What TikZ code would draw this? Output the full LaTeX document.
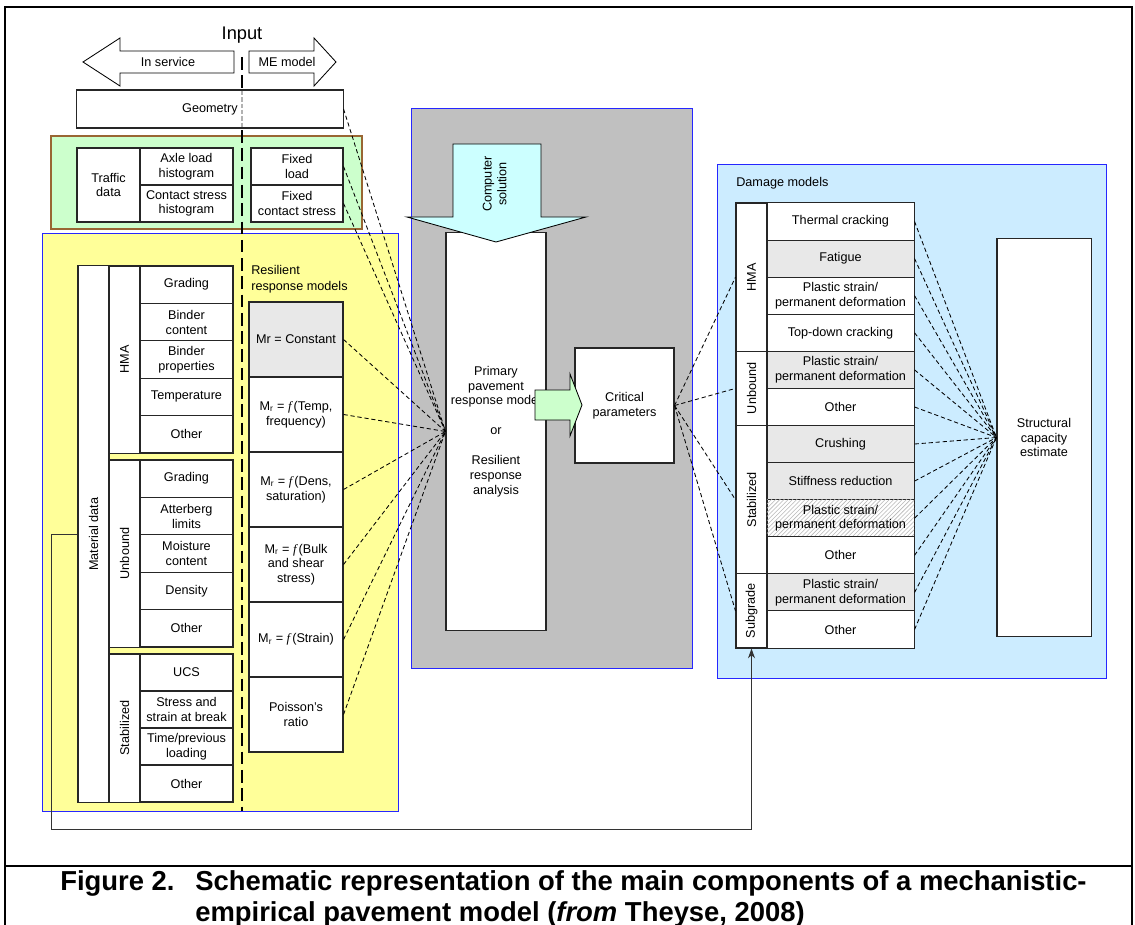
\documentclass[tikz,border=0pt]{standalone}
\usepackage{fontspec}
\setmainfont{Liberation Sans}
\newfontfamily\timesfam{Liberation Serif}
\usetikzlibrary{arrows.meta,patterns}

\definecolor{panelyellow}{HTML}{FFFF99}
\definecolor{panelgreen}{HTML}{CCFFCC}
\definecolor{panelgray}{HTML}{C0C0C0}
\definecolor{panelblue}{HTML}{CCECFF}
\definecolor{panelbrown}{HTML}{996633}
\definecolor{itemgray}{HTML}{E8E8E8}
\definecolor{arrowcyan}{HTML}{CCFFFF}

\newcommand{\modr}{M\textsubscript{r}}
\newcommand{\funcf}{{\timesfam\itshape f}\,}

\tikzset{
  panel/.style={draw=blue!85, line width=0.6pt},
  cell/.style={draw=black!85, fill=white, line width=0.75pt, align=center, inner sep=1pt},
  matitem/.style={cell, minimum width=2.325cm, minimum height=0.935cm},
  matgroup/.style={cell, minimum width=0.775cm},
  rmodel/.style={cell, minimum width=2.35cm, minimum height=1.875cm},
  dmgitem/.style={cell, minimum width=3.675cm, minimum height=0.927cm},
  dmggroup/.style={cell, minimum width=0.775cm},
  shaded/.style={fill=itemgray},
  hatched/.style={postaction={pattern=north east lines, pattern color=gray!55}},
  bigarrow/.style={draw=black, line width=0.6pt},
  link/.style={dash pattern=on 3pt off 2pt, line width=0.6pt},
  divider/.style={line width=1.8pt, dash pattern=on 9pt off 4pt},
  feedback/.style={draw=black!80, line width=0.6pt, -{Stealth[length=7pt,width=5pt]}},
  caption/.style={font=\fontsize{19.5}{23}\selectfont\bfseries, inner sep=0pt},
}

\begin{document}
\begin{tikzpicture}[x=0.025cm, y=-0.025cm,
    every node/.append style={font=\fontsize{9}{10.5}\selectfont}]
  \useasboundingbox (0,0) rectangle (1135,925);

  % frame and caption rule
  \draw[line width=1.5pt] (5,925) -- (5,7) -- (1132,7) -- (1132,925);
  \draw[line width=1.5pt] (5,866) -- (1132,866);

  % coloured panels
  \filldraw[panel, fill=panelyellow] (42,233) rectangle (398,811);
  \filldraw[fill=panelgreen, draw=panelbrown, line width=0.8pt] (51,136) rectangle (362,229);
  \filldraw[panel, fill=panelgray] (411,108) rectangle (692,668);
  \filldraw[panel, fill=panelblue] (717,164) rectangle (1106,678);

  % in service / ME model divider
  \draw[divider] (242,57) -- (242,811);

  % input side
  \node[font=\fontsize{13}{15}\selectfont] (input) at (242,35) {Input};
  \draw[bigarrow, fill=white] (83,62) -- (120,38) -- (120,51) -- (234,51) -- (234,73) -- (120,73) -- (120,86) -- cycle;
  \draw[bigarrow, fill=white] (249,51) -- (314,51) -- (314,38) -- (336,62) -- (314,86) -- (314,73) -- (249,73) -- cycle;
  \node (inservice) at (168,62) {In service};
  \node (memodel) at (287,62) {ME model};

  \node[cell, minimum width=6.65cm, minimum height=0.95cm] (geom) at (210,109) {Geometry};
  \draw[gray!60, line width=1.2pt, dash pattern=on 3pt off 1.5pt] (242,91) -- (242,127);

  \node[cell, minimum width=1.575cm, minimum height=1.85cm] (trafdata) at (108.5,185) {Traffic\\data};
  \node[matitem, minimum height=0.925cm] (axle) at (186.5,166.5) {Axle load\\histogram};
  \node[matitem, minimum height=0.925cm] (contact) at (186.5,203.5) {Contact stress\\histogram};
  \node[cell, minimum width=2.3cm, minimum height=0.925cm] (fixload) at (297,166.5) {Fixed\\load};
  \node[cell, minimum width=2.3cm, minimum height=0.925cm] (fixstress) at (297,203.5) {Fixed\\contact stress};

  % material data
  \node[matgroup, minimum height=13.4cm] (matdata) at (93.5,534) {\rotatebox{90}{Material data}};
  \node[matgroup, minimum height=4.675cm] (mhma) at (124.5,359.5) {\rotatebox{90}{HMA}};
  \node[matgroup, minimum height=4.675cm] (munb) at (124.5,553.5) {\rotatebox{90}{Unbound}};
  \node[matgroup, minimum height=3.7cm] (mstab) at (124.5,728) {\rotatebox{90}{Stabilized}};

  \node[matitem] (hma1) at (186.5,284.7) {Grading};
  \node[matitem] (hma2) at (186.5,322.1) {Binder\\content};
  \node[matitem] (hma3) at (186.5,359.5) {Binder\\properties};
  \node[matitem] (hma4) at (186.5,396.9) {Temperature};
  \node[matitem] (hma5) at (186.5,434.3) {Other};
  \node[matitem] (unb1) at (186.5,478.7) {Grading};
  \node[matitem] (unb2) at (186.5,516.1) {Atterberg\\limits};
  \node[matitem] (unb3) at (186.5,553.5) {Moisture\\content};
  \node[matitem] (unb4) at (186.5,590.9) {Density};
  \node[matitem] (unb5) at (186.5,628.3) {Other};
  \node[matitem, minimum height=0.925cm] (stab1) at (186.5,672.5) {UCS};
  \node[matitem, minimum height=0.925cm] (stab2) at (186.5,709.5) {Stress and\\strain at break};
  \node[matitem, minimum height=0.925cm] (stab3) at (186.5,746.5) {Time/previous\\loading};
  \node[matitem, minimum height=0.925cm] (stab4) at (186.5,783.5) {Other};

  % resilient response models
  \node[anchor=north west, align=left, inner sep=0pt, font=\fontsize{9}{11.3}\selectfont] (rrmtitle) at (251,265) {Resilient\\response models};
  \node[rmodel, shaded] (rm1) at (296,339.5) {Mr = Constant};
  \node[rmodel] (rm2) at (296,414.5) {\modr{} = \funcf(Temp,\\frequency)};
  \node[rmodel] (rm3) at (296,489.5) {\modr{} = \funcf(Dens,\\saturation)};
  \node[rmodel] (rm4) at (296,564.5) {\modr{} = \funcf(Bulk\\and shear\\stress)};
  \node[rmodel] (rm5) at (296,639.5) {\modr{} = \funcf(Strain)};
  \node[rmodel] (rm6) at (296,714.5) {Poisson's\\ratio};

  % primary response
  \node[cell, minimum width=2.5cm, minimum height=9.925cm, font=\fontsize{9}{10.6}\selectfont] (prim) at (496,431.5)
    {Primary\\pavement\\response model\\[10.6pt]or\\[10.6pt]Resilient\\response\\analysis};
  \draw[bigarrow, fill=arrowcyan] (453,144) -- (541,144) -- (541,217) -- (586,217) -- (496,242) -- (407,217) -- (453,217) -- cycle;
  \node (compsol) at (496,184) {\rotatebox{90}{\begin{tabular}{@{}c@{}}Computer\\solution\end{tabular}}};
  \node[cell, minimum width=2.475cm, minimum height=2.875cm] (crit) at (624.5,405.5) {Critical\\parameters};
  \draw[bigarrow, fill=panelgreen] (535,390) -- (570,390) -- (570,374) -- (582,405) -- (570,436) -- (570,420) -- (535,420) -- cycle;

  % damage models
  \node[anchor=west, inner sep=0pt] (dmgtitle) at (736,183) {Damage models};
  \node[dmggroup, minimum height=3.708cm] (dhma) at (751.5,277.2) {\rotatebox{90}{HMA}};
  \node[dmggroup, minimum height=1.854cm] (dunb) at (751.5,388.4) {\rotatebox{90}{Unbound}};
  \node[dmggroup, minimum height=3.708cm] (dstab) at (751.5,499.7) {\rotatebox{90}{Stabilized}};
  \node[dmggroup, minimum height=1.854cm] (dsub) at (751.5,610.9) {\rotatebox{90}{Subgrade}};

  \node[dmgitem] (dm1) at (840.5,221.5) {Thermal cracking};
  \node[dmgitem, shaded] (dm2) at (840.5,258.6) {Fatigue};
  \node[dmgitem] (dm3) at (840.5,295.7) {Plastic strain/\\permanent deformation};
  \node[dmgitem] (dm4) at (840.5,332.8) {Top-down cracking};
  \node[dmgitem, shaded] (dm5) at (840.5,369.9) {Plastic strain/\\permanent deformation};
  \node[dmgitem] (dm6) at (840.5,407.0) {Other};
  \node[dmgitem, shaded] (dm7) at (840.5,444.0) {Crushing};
  \node[dmgitem, shaded] (dm8) at (840.5,481.1) {Stiffness reduction};
  \node[dmgitem, hatched] (dm9) at (840.5,518.2) {Plastic strain/\\permanent deformation};
  \node[dmgitem] (dm10) at (840.5,555.3) {Other};
  \node[dmgitem, shaded] (dm11) at (840.5,592.4) {Plastic strain/\\permanent deformation};
  \node[dmgitem] (dm12) at (840.5,629.5) {Other};

  \node[cell, minimum width=2.35cm, minimum height=9.925cm] (struct) at (1044,437.5) {Structural\\capacity\\estimate};

  % dashed links
  \foreach \src in {geom,fixload,fixstress,rm1,rm2,rm3,rm4,rm5,rm6}
    \draw[link] (\src.east) -- (prim.west);
  \foreach \grp in {dhma,dunb,dstab,dsub}
    \draw[link] (crit.east) -- (\grp.west);
  \foreach \i in {1,...,12}
    \draw[link] (dm\i.east) -- (struct.west);

  % feedback from material data to subgrade
  \coordinate (fbcorner) at (51,829);
  \draw[feedback] (matdata.west) -| (fbcorner) -| (dsub.south);

  % caption
  \node[caption, anchor=base west] (figno) at (60,890) {Figure 2.};
  \node[caption, anchor=base west] (figline1) at (195,890) {Schematic representation of the main components of a mechanistic-};
  \node[caption, anchor=base west] (figline2) at (195,921) {empirical pavement model (\textit{from} Theyse, 2008)};
\end{tikzpicture}
\end{document}
